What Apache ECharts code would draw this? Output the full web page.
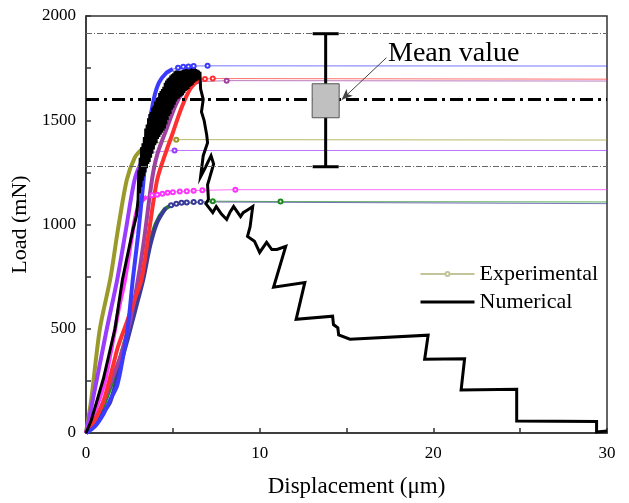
<!DOCTYPE html>
<html>
<head>
<meta charset="utf-8">
<script src="https://cdn.jsdelivr.net/npm/echarts@6/dist/echarts.min.js"></script>
<style>
  html, body { margin: 0; background: #fff; }
  #chart { width: 629px; height: 503px; }
</style>
</head>
<body>
<div id="chart"></div>
<script>
// tick labels
var xLabels = [0, 10, 20, 30];
var yLabels = [0, 500, 1000, 1500, 2000];

// experimental curves: loading part (dense markers) + plateau
var blueRise = [[0,0],[0.5,30],[1.0,90],[1.4,160],[1.8,230],[2.1,350],[2.4,500],[2.7,740],[3.0,950],[3.3,1200],[3.57,1440],[3.9,1600],[4.2,1680],[4.6,1725],[5.0,1745]];
var blueFlat = [[5.0,1745],[5.3,1752],[5.6,1756],[5.9,1758],[6.2,1760],[7.0,1761],[30,1760]];
var oliveRise = [[0,0],[0.3,160],[0.8,500],[1.4,740],[1.84,976],[2.35,1215],[2.8,1320],[3.2,1360],[3.6,1385]];
var oliveFlat = [[3.6,1385],[5.2,1407],[30,1405]];
var violetRise = [[0,0],[0.3,120],[1.2,500],[1.8,737],[2.3,976],[2.8,1215],[3.2,1300],[3.6,1345]];
var violetFlat = [[3.6,1345],[5.1,1355],[30,1355]];
var magentaRise = [[0,0],[0.5,100],[1.0,220],[1.2,290],[1.57,450],[1.9,600],[2.25,737],[2.6,920],[2.9,1057],[3.2,1110],[3.5,1134]];
var magentaFlat = [[3.5,1134],[3.8,1140],[4.1,1143],[4.4,1148],[4.7,1152],[5.0,1155],[5.4,1158],[5.8,1160],[6.2,1162],[6.7,1164],[8.6,1167],[30,1167]];
var redRise = [[0,0],[0.5,60],[1.0,150],[1.55,320],[1.85,416],[2.3,520],[2.8,640],[3.2,737],[3.6,950],[4.1,1215],[4.65,1359],[5.0,1440],[5.5,1560],[6.0,1650],[6.5,1695]];
var redFlat = [[6.5,1695],[6.85,1698],[7.3,1700],[30,1697]];
var purpleRise = [[0,0],[0.5,60],[1.0,150],[1.5,260],[2.0,370],[2.5,520],[2.9,690],[3.3,900],[3.8,1215],[4.1,1335],[4.6,1450],[5.2,1580],[5.8,1660],[6.5,1685]];
var purpleFlat = [[6.5,1685],[8.1,1690],[30,1688]];
var navyRise = [[0,0],[0.5,40],[1.0,100],[1.4,150],[1.96,320],[2.4,450],[2.7,545],[3.0,640],[3.3,737],[3.7,900],[4.1,1010],[4.6,1080]];
var navyFlat = [[4.6,1080],[4.9,1092],[5.2,1100],[5.5,1104],[5.8,1106],[6.2,1108],[6.6,1108],[30,1100]];
var greenRise = [[0,0],[0.5,50],[1.0,130],[1.5,240],[2.0,370],[2.5,520],[3.2,737],[3.6,880],[4.0,1000],[4.5,1070],[5.0,1095]];
var greenFlat = [[5.0,1095],[7.3,1112],[11.2,1110],[30,1108]];

// numerical curve (noisy loading, then stepwise softening)
var numerical = [[0,0],[0.3,60],[1.0,260],[1.67,500],[2.1,737],[2.7,976],[2.9,1040],
  [3.0,1120],[3.04,1260],[3.08,1150],[3.12,1320],[3.16,1180],[3.2,1370],[3.24,1210],[3.28,1390],[3.32,1230],[3.36,1420],
  [3.4,1250],[3.44,1460],[3.48,1270],[3.52,1480],[3.56,1290],[3.6,1510],[3.64,1300],[3.68,1530],[3.72,1320],[3.76,1540],
  [3.8,1340],[3.84,1560],[3.88,1360],[3.92,1570],[3.96,1380],[4.0,1590],[4.04,1390],[4.08,1600],[4.12,1410],[4.16,1610],
  [4.2,1420],[4.24,1630],[4.28,1430],[4.32,1640],[4.36,1440],[4.4,1650],[4.44,1450],[4.48,1660],[4.52,1460],[4.56,1680],
  [4.6,1480],[4.64,1690],[4.68,1500],[4.72,1700],[4.76,1520],[4.8,1705],[4.84,1530],[4.88,1715],[4.92,1550],[4.96,1720],
  [5.0,1560],[5.04,1725],[5.08,1575],[5.12,1735],[5.16,1590],[5.2,1738],[5.24,1600],[5.28,1740],[5.32,1605],[5.36,1737],
  [5.4,1612],[5.44,1730],[5.48,1615],[5.52,1738],[5.56,1620],[5.6,1742],[5.64,1630],[5.68,1745],[5.72,1640],[5.76,1748],
  [5.8,1645],[5.84,1750],[5.88,1650],[5.92,1752],[5.96,1660],[6.0,1750],[6.04,1665],[6.08,1752],[6.12,1670],[6.16,1748],
  [6.2,1680],[6.24,1750],[6.28,1685],[6.32,1745],[6.36,1690],[6.4,1742],[6.44,1695],[6.48,1738],[6.52,1700],[6.56,1732],
  [6.6,1650],[6.75,1600],[6.65,1540],[6.8,1500],[6.95,1430],[7.0,1392],[6.75,1330],[6.6,1230],[6.85,1270],[7.2,1330],
  [7.35,1290],[7.0,1190],[7.05,1120],[6.9,1100],[7.3,1057],[7.5,1086],[7.8,1050],[8.1,1024],[8.3,1060],[8.5,1086],
  [8.9,1038],[9.05,1057],[9.3,1070],[9.6,1086],[9.45,990],[9.3,943],[9.7,920],[10.0,866],[10.4,914],[10.7,880],
  [11.0,880],[11.5,895],[10.8,699],[12.6,722],[12.1,545],[14.2,560],[14.25,520],[14.5,505],[14.55,470],[15.2,450],
  [19.7,469],[19.5,354],[21.8,356],[21.6,206],[24.8,210],[24.8,57],[29.4,55],[29.4,5],[30,10]];

// mean value and scatter band
var meanLoad = 1600;
var bandLoads = [1277, 1915];
var errorBar = [[13.8, 1277, 1512, 1675, 1915]]; // x, low, box low, box high, high
var arrowLine = [[17.3, 1800], [14.72, 1598]];

var serif = 'Liberation Serif';

var curves = [
  { color: '#9a9a2a', rise: oliveRise, flat: oliveFlat },
  { color: '#9a3cff', rise: violetRise, flat: violetFlat },
  { color: '#1a8a1a', rise: greenRise, flat: greenFlat },
  { color: '#3a3a9a', rise: navyRise, flat: navyFlat },
  { color: '#ff33ff', rise: magentaRise, flat: magentaFlat },
  { color: '#a040a0', rise: purpleRise, flat: purpleFlat },
  { color: '#ff3030', rise: redRise, flat: redFlat },
  { color: '#3b3bff', rise: blueRise, flat: blueFlat }
];

var series = [];
curves.forEach(function (c, i) {
  series.push({
    name: 'exp' + i, type: 'line', data: c.rise, smooth: 0.3,
    symbol: 'none', color: c.color,
    lineStyle: { width: 4, color: c.color }
  });
  series.push({
    name: 'expf' + i, type: 'line', color: c.color,
    data: c.flat.map(function (p, k) {
      return (k === 0 || k === c.flat.length - 1) ? { value: p, symbol: 'none' } : p;
    }),
    symbol: 'emptyCircle', symbolSize: 4,
    itemStyle: { color: c.color, borderWidth: 1 },
    lineStyle: { width: 1, color: c.color, opacity: 0.7 }
  });
});

series.push({
  name: 'Experimental', type: 'line', data: [],
  symbol: 'emptyCircle', symbolSize: 4, color: '#c4c49a',
  lineStyle: { width: 1, color: '#c4c49a' }
});

series.push({
  name: 'Numerical', type: 'line', data: numerical,
  symbol: 'none', color: '#000',
  lineStyle: { width: 3, color: '#000', join: 'miter' }
});

series.push({
  name: 'ref', type: 'line', data: [],
  markLine: {
    silent: true, symbol: ['none', 'none'], label: { show: false },
    data: [
      { yAxis: meanLoad, lineStyle: { type: [13, 5, 3, 5], width: 3, color: '#000' } },
      { yAxis: bandLoads[0], lineStyle: { type: [6, 2, 1, 2], width: 1, color: '#666' } },
      { yAxis: bandLoads[1], lineStyle: { type: [6, 2, 1, 2], width: 1, color: '#666' } },
      [
        { coord: arrowLine[0], symbol: 'none' },
        { coord: arrowLine[1], symbol: 'arrow', symbolSize: [7, 11],
          lineStyle: { type: 'solid', width: 1, color: '#444' } }
      ]
    ]
  }
});

series.push({
  name: 'errbar', type: 'custom', data: errorBar, z: 10,
  renderItem: function (params, api) {
    var x = api.value(0);
    var pLo = api.coord([x, api.value(1)]);
    var pBL = api.coord([x, api.value(2)]);
    var pBH = api.coord([x, api.value(3)]);
    var pHi = api.coord([x, api.value(4)]);
    var cap = 13, bw = 27;
    var s = { stroke: '#000', lineWidth: 3 };
    return {
      type: 'group',
      children: [
        { type: 'line', shape: { x1: pLo[0], y1: pLo[1], x2: pHi[0], y2: pHi[1] }, style: s },
        { type: 'line', shape: { x1: pLo[0] - cap, y1: pLo[1], x2: pLo[0] + cap, y2: pLo[1] }, style: s },
        { type: 'line', shape: { x1: pHi[0] - cap, y1: pHi[1], x2: pHi[0] + cap, y2: pHi[1] }, style: s },
        { type: 'rect', shape: { x: pBL[0] - bw / 2, y: pBH[1], width: bw, height: pBL[1] - pBH[1] },
          style: { fill: '#c0c0c0', stroke: '#555', lineWidth: 1 } }
      ]
    };
  }
});

var chart = echarts.init(document.getElementById('chart'));
chart.setOption({
  animation: false,
  backgroundColor: '#fff',
  grid: { left: 86, right: 22, top: 16, bottom: 69, show: true, borderColor: '#333', borderWidth: 1.5 },
  legend: {
    orient: 'vertical', left: 414, top: 258, itemWidth: 54, itemHeight: 5, itemGap: 6,
    textStyle: { fontFamily: serif, fontSize: 22, color: '#000' },
    data: [
      { name: 'Experimental' },
      { name: 'Numerical', itemStyle: { opacity: 0 }, lineStyle: { width: 3 } }
    ]
  },
  graphic: [{
    type: 'text', left: 388, top: 40,
    style: { text: 'Mean value', font: '28px "Liberation Serif"', fill: '#000' }
  }],
  xAxis: {
    type: 'value', min: 0, max: 30, interval: 5,
    name: 'Displacement (\u03bcm)', nameLocation: 'middle', nameGap: 42,
    nameTextStyle: { fontFamily: serif, fontSize: 23, color: '#000', padding: [0, 0, 0, 20] },
    axisLine: { lineStyle: { color: '#333', width: 1.5 } },
    axisTick: { inside: true, length: 5, lineStyle: { color: '#333', width: 1.5 } },
    axisLabel: {
      fontFamily: serif, fontSize: 17, color: '#000', margin: 12,
      formatter: function (v) { return xLabels.indexOf(v) >= 0 ? String(v) : ''; }
    },
    splitLine: { show: false }
  },
  yAxis: {
    type: 'value', min: 0, max: 2000, interval: 250,
    name: 'Load (mN)', nameLocation: 'middle', nameGap: 52,
    nameTextStyle: { fontFamily: serif, fontSize: 22, color: '#000' },
    axisLine: { show: true, lineStyle: { color: '#333', width: 1.5 } },
    axisTick: { show: true, inside: true, length: 5, lineStyle: { color: '#333', width: 1.5 } },
    axisLabel: {
      fontFamily: serif, fontSize: 17, color: '#000', margin: 10,
      formatter: function (v) { return yLabels.indexOf(v) >= 0 ? String(v) : ''; }
    },
    splitLine: { show: false }
  },
  series: series
});
</script>
</body>
</html>
